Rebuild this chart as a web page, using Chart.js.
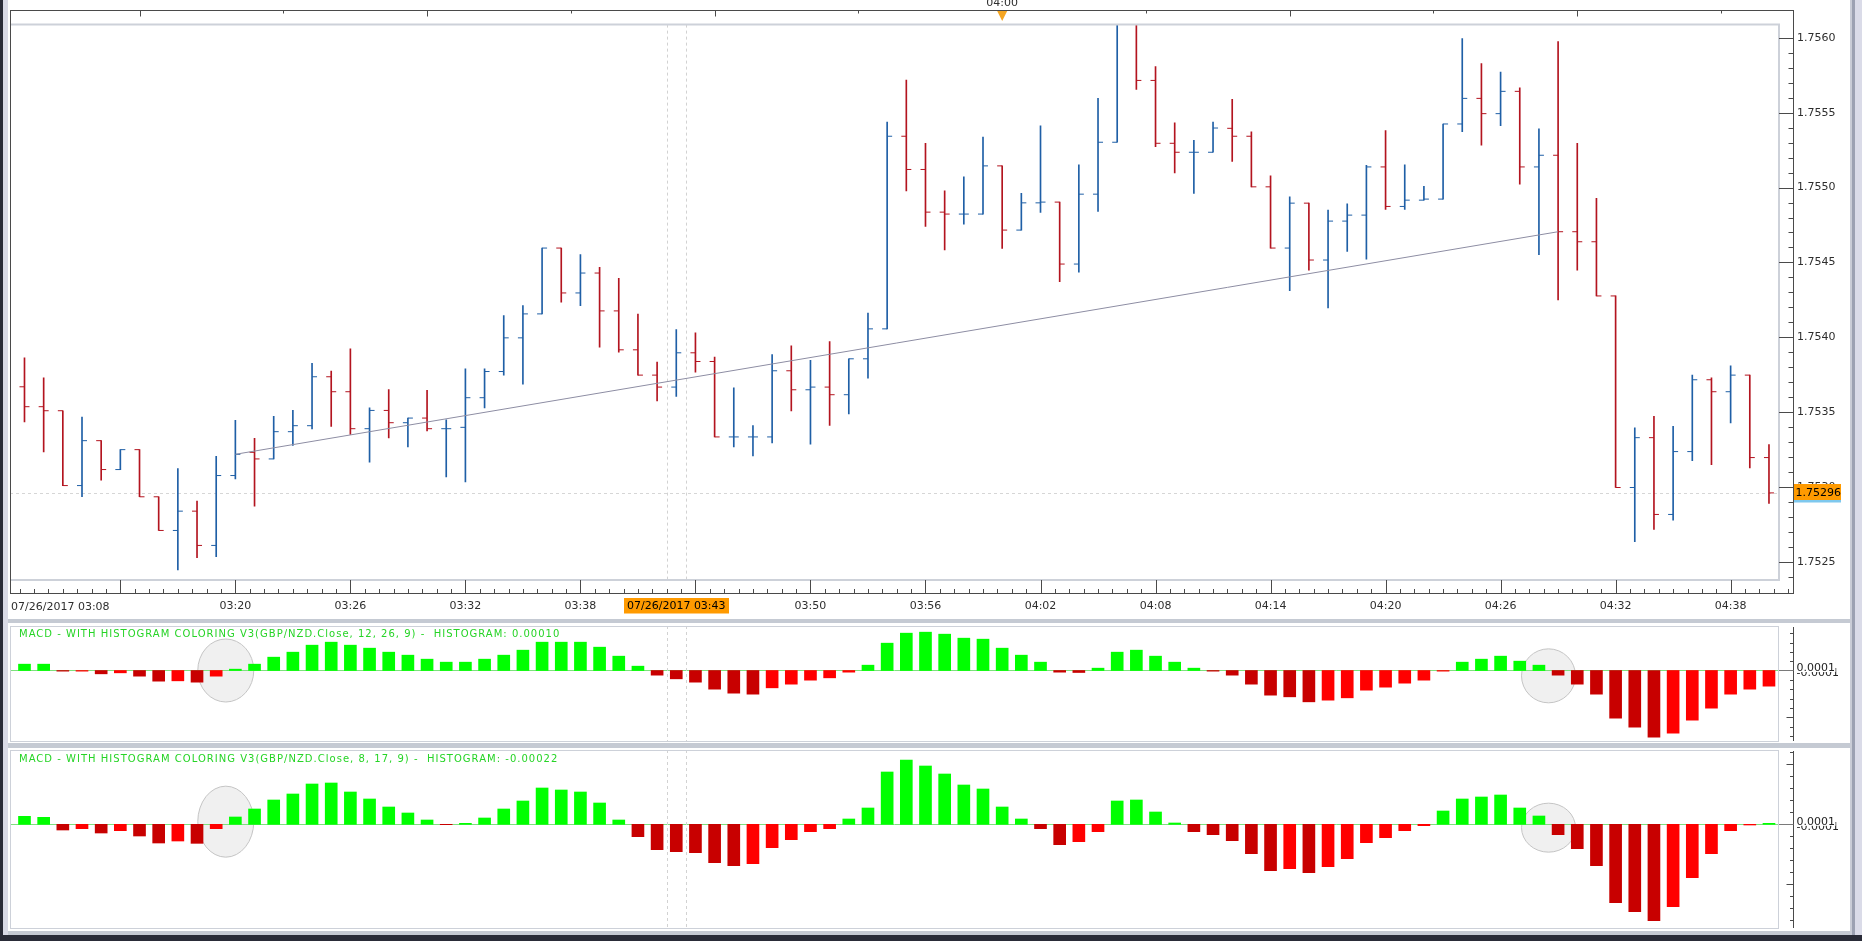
<!DOCTYPE html>
<html>
<head>
<meta charset="utf-8">
<script src="https://cdn.jsdelivr.net/npm/chart.js@4.4.1/dist/chart.umd.min.js"></script>
<style>
  body { margin: 0; width: 1862px; height: 941px; overflow: hidden; position: relative; background: #fff; }
  .strip { position: absolute; }
  canvas { position: absolute; left: 0; }
</style>
</head>
<body>
<div class="strip" style="left:0;top:0;width:3px;height:941px;background:#2a2c38"></div>
<div class="strip" style="left:3px;top:0;width:5px;height:941px;background:#d9dae6"></div>
<div class="strip" style="left:1850px;top:0;width:2px;height:941px;background:#c9ccd6"></div>
<div class="strip" style="left:1852px;top:0;width:3px;height:941px;background:#9ca1b2"></div>
<div class="strip" style="left:1855px;top:0;width:7px;height:941px;background:#dadbe8"></div>
<div class="strip" style="left:8px;top:619px;width:1842px;height:4px;background:#c5cad3"></div>
<div class="strip" style="left:8px;top:743px;width:1842px;height:5px;background:#c5cad3"></div>
<div class="strip" style="left:8px;top:931px;width:1842px;height:4px;background:#c5cad3"></div>
<div class="strip" style="left:0;top:935px;width:1862px;height:6px;background:#2a2c38"></div>

<canvas id="main" width="1850" height="619" style="top:0"></canvas>
<canvas id="macd1" width="1850" height="119" style="top:624px"></canvas>
<canvas id="macd2" width="1850" height="183" style="top:748px"></canvas>

<script>
// GBP/NZD 1-minute bars, 07/26/2017
const times = [
  '03:09','03:10','03:11','03:12','03:13','03:14','03:15','03:16','03:17','03:18','03:19',
  '03:20','03:21','03:22','03:23','03:24','03:25','03:26','03:27','03:28','03:29','03:30',
  '03:31','03:32','03:33','03:34','03:35','03:36','03:37','03:38','03:39','03:40','03:41',
  '03:42','03:43','03:44','03:45','03:46','03:47','03:48','03:49','03:50','03:51','03:52',
  '03:53','03:54','03:55','03:56','03:57','03:58','03:59','04:00','04:01','04:02','04:03',
  '04:04','04:05','04:06','04:07','04:08','04:09','04:10','04:11','04:12','04:13','04:14',
  '04:15','04:16','04:17','04:18','04:19','04:20','04:21','04:22','04:23','04:24','04:25',
  '04:26','04:27','04:28','04:29','04:30','04:31','04:32','04:33','04:34','04:35','04:36',
  '04:37','04:38','04:39','04:40'
];

const open = [
  1.753669,1.753536,1.753509,1.753009,1.753309,1.753116,1.753249,1.752934,1.752709,1.752838,
  1.752609,1.753076,1.753231,1.753187,1.753369,1.753409,1.753736,1.753636,1.753389,1.753511,
  1.753429,1.753460,1.753389,1.753398,1.753596,1.753771,1.753996,1.754156,1.754596,1.754296,
  1.754429,1.754176,1.753916,1.753747,1.753667,1.753896,1.753838,1.753334,1.753334,1.753334,
  1.753776,1.753649,1.753667,1.753616,1.753856,1.754056,1.755343,1.755121,1.754836,1.754823,
  1.754823,1.755145,1.754716,1.754898,1.754903,1.754489,1.754956,1.755303,1.756130,1.755716,
  1.755296,1.755236,1.755236,1.755396,1.755343,1.755005,1.754596,1.754896,1.754516,1.754776,
  1.754816,1.755138,1.754874,1.754916,1.754923,1.755425,1.755596,1.755494,1.755643,1.755138,
  1.755216,1.754705,1.754638,1.754276,1.752996,1.753329,1.752816,1.753236,1.753716,1.753636,
  1.753747,1.753196
];
const high = [
  1.753862,1.753729,1.753509,1.753467,1.753309,1.753249,1.753249,1.752934,1.753122,1.752905,
  1.753205,1.753445,1.753325,1.753471,1.753511,1.753825,1.753774,1.753922,1.753529,1.753651,
  1.753460,1.753645,1.753449,1.753789,1.753789,1.754145,1.754211,1.754596,1.754596,1.754552,
  1.754467,1.754394,1.754154,1.753834,1.754051,1.754029,1.753867,1.753662,1.753409,1.753885,
  1.753942,1.753845,1.753971,1.753856,1.754162,1.755438,1.755718,1.755296,1.754978,1.755072,
  1.755338,1.755145,1.754961,1.755412,1.754903,1.755152,1.755596,1.756160,1.756180,1.755809,
  1.755432,1.755316,1.755438,1.755589,1.755372,1.755078,1.754938,1.754896,1.754849,1.754892,
  1.755149,1.755381,1.755152,1.755009,1.755425,1.755996,1.755829,1.755772,1.755667,1.755392,
  1.755976,1.755296,1.754929,1.754276,1.753394,1.753471,1.753405,1.753747,1.753729,1.753809,
  1.753747,1.753282
];
const low = [
  1.753434,1.753234,1.753009,1.752934,1.753045,1.753116,1.752934,1.752709,1.752445,1.752527,
  1.752534,1.753054,1.752871,1.753187,1.753278,1.753387,1.753405,1.753351,1.753165,1.753327,
  1.753267,1.753374,1.753067,1.753034,1.753527,1.753747,1.753687,1.754156,1.754234,1.754211,
  1.753934,1.753900,1.753747,1.753574,1.753605,1.753767,1.753334,1.753267,1.753207,1.753294,
  1.753507,1.753285,1.753411,1.753487,1.753727,1.754056,1.754978,1.754741,1.754583,1.754756,
  1.754823,1.754594,1.754716,1.754834,1.754372,1.754434,1.754841,1.755303,1.755656,1.755274,
  1.755098,1.754961,1.755236,1.755174,1.755005,1.754596,1.754312,1.754449,1.754196,1.754574,
  1.754521,1.754854,1.754854,1.754916,1.754923,1.755374,1.755283,1.755414,1.755023,1.754552,
  1.754249,1.754449,1.754276,1.752996,1.752634,1.752716,1.752778,1.753176,1.753149,1.753427,
  1.753127,1.752889
];
const close = [
  1.753536,1.753509,1.753009,1.753309,1.753116,1.753249,1.752934,1.752709,1.752838,1.752609,
  1.753076,1.753218,1.753187,1.753369,1.753409,1.753736,1.753636,1.753389,1.753511,1.753429,
  1.753460,1.753389,1.753389,1.753596,1.753771,1.753996,1.754156,1.754596,1.754296,1.754429,
  1.754176,1.753916,1.753747,1.753667,1.753896,1.753838,1.753334,1.753334,1.753334,1.753776,
  1.753649,1.753667,1.753616,1.753856,1.754056,1.755343,1.755121,1.754836,1.754823,1.754823,
  1.755145,1.754716,1.754898,1.754903,1.754489,1.754956,1.755303,1.756130,1.755716,1.755296,
  1.755236,1.755236,1.755398,1.755343,1.755005,1.754596,1.754896,1.754516,1.754776,1.754816,
  1.755138,1.754874,1.754916,1.754923,1.755425,1.755596,1.755494,1.755643,1.755138,1.755216,
  1.754705,1.754638,1.754276,1.752996,1.753329,1.752816,1.753236,1.753716,1.753636,1.753747,
  1.753196,1.752960
];

// MACD histograms, in millionths
const hist1 = [
  19,19,-2,-2,-10,-7,-17,-32,-31,-35,-17,4,19,40,55,76,85,76,67,55,
  46,34,25,25,34,46,61,85,85,85,70,43,13,-14,-25,-35,-56,-68,-71,-52,
  -41,-29,-22,-5,16,82,112,115,109,97,94,67,46,25,-5,-6,7,55,61,43,
  25,7,-2,-14,-41,-74,-79,-94,-89,-82,-59,-50,-38,-29,-2,25,34,43,28,16,
  -14,-41,-71,-143,-170,-200,-188,-149,-113,-71,-56,-47
];
const hist2 = [
  24,21,-17,-13,-26,-19,-35,-56,-50,-57,-13,22,46,73,91,121,124,97,76,52,
  34,13,-1,3,19,46,70,109,103,97,64,13,-37,-76,-82,-85,-115,-124,-118,-70,
  -46,-22,-13,16,49,157,193,175,151,118,106,52,16,-13,-61,-52,-22,70,73,37,
  4,-22,-31,-49,-88,-139,-133,-145,-127,-103,-55,-40,-19,-4,40,76,82,88,49,25,
  -31,-73,-124,-235,-262,-289,-247,-160,-88,-19,-2,3
];

const priceTickLabels = ['1.7525','1.7530','1.7535','1.7540','1.7545','1.7550','1.7555','1.7560'];
const timeTickLabels = ['03:20','03:26','03:32','03:38','03:50','03:56','04:02','04:08','04:14','04:20','04:26','04:32','04:38'];
const axisStartLabel = '07/26/2017 03:08';
const cursorDate = '07/26/2017';
const cursorTime = '03:43';
const topMarkerTime = '04:00';
const lastPrice = 1.75296;
const lastPriceLabel = '1.75296';
const trendFrom = ['03:20', 1.753218];
const trendTo = ['04:29', 1.754705];
const macd1Title = 'MACD - WITH HISTOGRAM COLORING V3(GBP/NZD.Close, 12, 26, 9) -  HISTOGRAM: 0.00010';
const macd2Title = 'MACD - WITH HISTOGRAM COLORING V3(GBP/NZD.Close, 8, 17, 9) -  HISTOGRAM: -0.00022';
const macdAxisLabels = ['0.0001', '-0.0001'];

const UP = '#1f5fa6', DOWN = '#b3141f';
const GREEN = '#00ff00', RED = '#ff0000', DARK_RED = '#c80000';
const FONT = '"DejaVu Sans", Verdana, sans-serif';
const X_MIN = -0.756, X_MAX = 91.523;

Chart.defaults.font.family = FONT;
Chart.defaults.font.size = 11;
Chart.defaults.color = '#2e2e2e';
Chart.defaults.animation = false;
Chart.defaults.events = [];
Chart.defaults.plugins.legend.display = false;
Chart.defaults.plugins.tooltip.enabled = false;

const barColors = close.map((c, i) => c >= open[i] ? UP : DOWN);
const histColors = h => h.map((v, i) => v >= 0 ? GREEN : (i > 0 && v < h[i - 1] ? DARK_RED : RED));
const crisp = v => Math.round(v) + 0.5;

function hline(ctx, x1, x2, y) { ctx.beginPath(); ctx.moveTo(x1, y); ctx.lineTo(x2, y); ctx.stroke(); }
function vline(ctx, x, y1, y2) { ctx.beginPath(); ctx.moveTo(x, y1); ctx.lineTo(x, y2); ctx.stroke(); }

function drawCursor(chart) {
  const {ctx, chartArea: a, scales: {x}} = chart;
  const ci = times.indexOf(cursorTime);
  ctx.save();
  ctx.strokeStyle = '#d2d2d2';
  ctx.lineWidth = 1;
  ctx.setLineDash([3, 3]);
  [ci - 0.5, ci + 0.5].forEach(v => vline(ctx, crisp(x.getPixelForValue(v)), a.top, a.bottom));
  ctx.restore();
}

const mainDecor = {
  id: 'mainDecor',
  beforeDatasetsDraw(chart) {
    const {ctx, chartArea: a, scales: {y}} = chart;
    ctx.save();
    ctx.strokeStyle = '#d6d6d6';
    ctx.lineWidth = 1;
    ctx.setLineDash([3, 3]);
    hline(ctx, a.left, a.right, crisp(y.getPixelForValue(lastPrice)));
    ctx.restore();
    drawCursor(chart);
  },
  afterDraw(chart) {
    const {ctx, chartArea: a, scales: {x, y}} = chart;
    const AX = a.right + 14.5;
    ctx.save();
    // inner plot border
    ctx.strokeStyle = '#cdd1d9';
    ctx.lineWidth = 2;
    ctx.beginPath();
    ctx.moveTo(a.left, a.top); ctx.lineTo(a.right, a.top); ctx.lineTo(a.right, a.bottom); ctx.lineTo(a.left, a.bottom);
    ctx.stroke();
    // outer frame with axis lines
    ctx.strokeStyle = '#4a4a4a';
    ctx.lineWidth = 1;
    ctx.strokeRect(a.left + 0.5, 10.5, AX - a.left - 0.5, 583);
    // time axis ticks (every 45 s, major every 6 min)
    const anchor = times.indexOf(timeTickLabels[0]);
    for (let k = -24; k < 140; k++) {
      const px = x.getPixelForValue(anchor + k * 0.75);
      if (px < a.left + 3 || px > AX - 3) continue;
      vline(ctx, crisp(px), 593.5, k % 8 === 0 ? 580 : 589);
    }
    // price axis ticks
    for (let n = 23; n <= 61; n++) {
      const py = y.getPixelForValue(1.75 + n / 10000);
      if (py < a.top + 2 || py > a.bottom - 2) continue;
      hline(ctx, n % 5 === 0 ? a.right : AX - 5, AX, crisp(py));
    }
    // top time strip
    const ti = times.indexOf(topMarkerTime);
    for (let k = -12; k <= 12; k++) {
      const px = x.getPixelForValue(ti + k * 7.5);
      if (px < a.left + 3 || px > AX - 3) continue;
      vline(ctx, crisp(px), 10.5, k % 2 === 0 ? 16.5 : 13.5);
    }
    const tx = x.getPixelForValue(ti);
    ctx.font = '11px ' + FONT;
    ctx.fillStyle = '#2e2e2e';
    ctx.textAlign = 'center';
    ctx.textBaseline = 'alphabetic';
    ctx.fillText(topMarkerTime, tx, 5.5);
    ctx.fillStyle = '#f4a522';
    ctx.beginPath();
    ctx.moveTo(tx - 5, 11); ctx.lineTo(tx + 5, 11); ctx.lineTo(tx, 21); ctx.closePath();
    ctx.fill();
    // left date label
    ctx.fillStyle = '#2e2e2e';
    ctx.textAlign = 'left';
    ctx.textBaseline = 'middle';
    ctx.fillText(axisStartLabel, a.left + 1, 607);
    // cursor time label
    const cx = x.getPixelForValue(times.indexOf(cursorTime));
    const ct = cursorDate + ' ' + cursorTime;
    const cw = ctx.measureText(ct).width + 6;
    ctx.fillStyle = '#ff9a00';
    ctx.fillRect(Math.round(cx - cw / 2), 598, Math.round(cw), 15.5);
    ctx.fillStyle = '#000';
    ctx.textAlign = 'center';
    ctx.fillText(ct, cx, 606.5);
    // last price label
    const py = y.getPixelForValue(lastPrice);
    ctx.fillStyle = '#ff9a00';
    ctx.fillRect(AX + 0.5, Math.round(py - 8.5), 47, 16);
    ctx.fillStyle = '#7ec8ee';
    ctx.fillRect(AX + 0.5, Math.round(py - 8.5) + 16, 47, 2.5);
    ctx.fillStyle = '#000';
    ctx.textAlign = 'left';
    ctx.fillText(lastPriceLabel, AX + 2, py);
    ctx.restore();
  }
};

function panelDecor(title, titleWidth, titleDy, step, longStep, rings) {
  return {
    id: 'panelDecor',
    beforeDatasetsDraw(chart) {
      const {ctx, chartArea: a, scales: {x, y}} = chart;
      ctx.save();
      rings.forEach(r => {
        ctx.beginPath();
        ctx.ellipse(x.getPixelForValue(times.indexOf(r.t) + 0.5), y.getPixelForValue(r.v), r.rx, r.ry, 0, 0, Math.PI * 2);
        ctx.fillStyle = '#f0f0f0';
        ctx.fill();
        ctx.strokeStyle = '#c4c4c4';
        ctx.lineWidth = 1;
        ctx.stroke();
      });
      ctx.strokeStyle = '#7ee07e';
      ctx.lineWidth = 1;
      hline(ctx, a.left, a.right, crisp(y.getPixelForValue(0)));
      ctx.restore();
      drawCursor(chart);
    },
    afterDraw(chart) {
      const {ctx, chartArea: a, scales: {y}} = chart;
      const AX = a.right + 14.5;
      const zy = y.getPixelForValue(0);
      ctx.save();
      ctx.strokeStyle = '#cdd1d9';
      ctx.lineWidth = 1;
      ctx.strokeRect(a.left + 0.5, a.top + 0.5, a.right - a.left - 1, a.bottom - a.top - 1);
      ctx.strokeStyle = '#4a4a4a';
      vline(ctx, AX, a.top + 1, a.bottom - 1);
      for (let k = -40; k <= 40; k++) {
        const v = k * step;
        const py = y.getPixelForValue(v);
        if (py < a.top + 2 || py > a.bottom - 2) continue;
        if (v === 0) { ctx.strokeStyle = '#7a7a7a'; hline(ctx, a.right, AX, crisp(py)); ctx.strokeStyle = '#4a4a4a'; continue; }
        hline(ctx, v % longStep === 0 ? AX - 7 : AX - 3.5, AX, crisp(py));
      }
      ctx.font = '11px ' + FONT;
      ctx.textAlign = 'left';
      ctx.textBaseline = 'middle';
      ctx.fillStyle = '#222';
      ctx.fillText(macdAxisLabels[1], AX + 3, zy + 3);
      ctx.fillStyle = '#fff';
      ctx.fillRect(AX + 2, zy - 7, 40, 8.5);
      ctx.fillStyle = '#222';
      ctx.fillText(macdAxisLabels[0], AX + 3, zy - 2);
      // title
      ctx.font = '10px ' + FONT;
      ctx.fillStyle = '#26d426';
      const natural = ctx.measureText(title).width;
      if ('letterSpacing' in ctx) {
        ctx.letterSpacing = ((titleWidth - natural) / title.length).toFixed(2) + 'px';
        ctx.fillText(title, a.left + 9, a.top + titleDy);
      } else {
        ctx.translate(a.left + 9, a.top + titleDy);
        ctx.scale(titleWidth / natural, 1);
        ctx.fillText(title, 0, 0);
      }
      ctx.restore();
    }
  };
}

new Chart(document.getElementById('main'), {
  type: 'bar',
  data: {
    datasets: [
      {
        type: 'line',
        data: [trendFrom, trendTo].map(([t, p]) => ({x: times.indexOf(t), y: p})),
        borderColor: '#8d8da3',
        borderWidth: 1,
        pointRadius: 0
      },
      {
        type: 'bar',
        data: times.map((t, i) => ({x: i, y: [low[i], high[i]]})),
        backgroundColor: barColors,
        borderWidth: 0,
        barThickness: 1
      },
      {
        type: 'scatter',
        data: times.map((t, i) => ({x: i, y: open[i]})),
        pointStyle: 'dash',
        pointRotation: 180,
        pointRadius: 5,
        pointBorderWidth: 1,
        pointBorderColor: barColors
      },
      {
        type: 'scatter',
        data: times.map((t, i) => ({x: i, y: close[i]})),
        pointStyle: 'dash',
        pointRotation: 0,
        pointRadius: 5,
        pointBorderWidth: 1,
        pointBorderColor: barColors
      }
    ]
  },
  options: {
    responsive: false,
    maintainAspectRatio: false,
    layout: {padding: {left: 10, top: 23, right: 0, bottom: 0}},
    scales: {
      x: {
        type: 'linear', min: X_MIN, max: X_MAX, offset: false,
        grid: {display: false, drawTicks: false}, border: {display: false},
        afterBuildTicks: s => { s.ticks = timeTickLabels.map(t => ({value: times.indexOf(t)})); },
        afterFit: s => { s.height = 39; },
        ticks: {autoSkip: false, maxRotation: 0, padding: 20, callback: v => times[v]}
      },
      y: {
        position: 'right', min: 1.752378, max: 1.756089,
        grid: {display: false, drawTicks: false}, border: {display: false},
        afterBuildTicks: s => { s.ticks = priceTickLabels.map(p => ({value: parseFloat(p)})); },
        afterFit: s => { s.width = 71; },
        ticks: {autoSkip: false, padding: 18, callback: v => v.toFixed(4)}
      }
    }
  },
  plugins: [mainDecor]
});

function macdChart(id, hist, min, max, pad, decor) {
  return new Chart(document.getElementById(id), {
    type: 'bar',
    data: {
      datasets: [{
        data: times.map((t, i) => ({x: i, y: hist[i]})),
        backgroundColor: histColors(hist),
        borderWidth: 0,
        barThickness: 12
      }]
    },
    options: {
      responsive: false,
      maintainAspectRatio: false,
      layout: {padding: {left: 10, top: pad[0], right: 71, bottom: pad[1]}},
      scales: {
        x: {type: 'linear', min: X_MIN, max: X_MAX, offset: false, display: false},
        y: {min: min, max: max, display: false}
      }
    },
    plugins: [decor]
  });
}

macdChart('macd1', hist1, -214.5, 133.5, [2, 1],
  panelDecor(macd1Title, 541, 8, 28, 140, [
    {t: '03:19', v: 0, rx: 28, ry: 31.5},
    {t: '04:28', v: -16, rx: 27, ry: 27}
  ]));
macdChart('macd2', hist2, -314, 223, [2, 2],
  panelDecor(macd2Title, 539, 9, 36, 180, [
    {t: '03:19', v: 8, rx: 28, ry: 35.5},
    {t: '04:28', v: -10, rx: 27, ry: 24.5}
  ]));
</script>
</body>
</html>
